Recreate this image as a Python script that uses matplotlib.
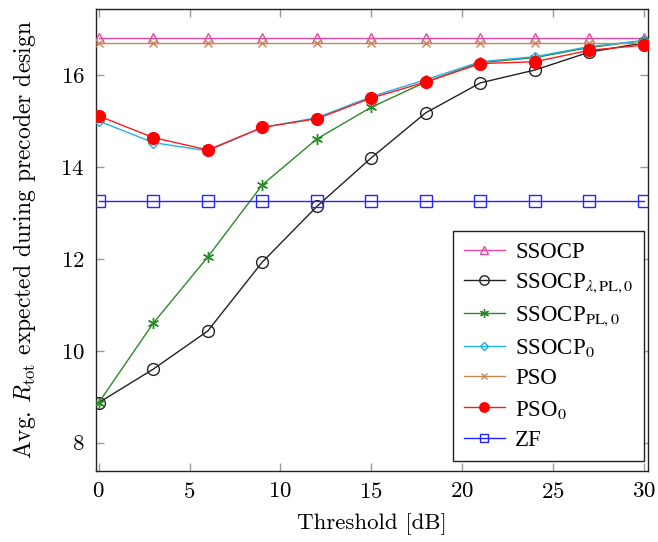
import matplotlib
matplotlib.use("Agg")
import matplotlib.pyplot as plt

threshold = [0, 3, 6, 9, 12, 15, 18, 21, 24, 27, 30]
ssocp = [16.80] * 11
ssocp_lam = [8.87, 9.60, 10.43, 11.93, 13.14, 14.20, 15.18, 15.83, 16.11, 16.50, 16.70]
ssocp_pl = [8.87, 10.60, 12.04, 13.61, 14.61, 15.30, 15.85, 16.27, 16.38, 16.60, 16.75]
ssocp0 = [15.00, 14.53, 14.35, 14.86, 15.07, 15.53, 15.90, 16.29, 16.40, 16.62, 16.75]
pso = [16.70] * 11
pso0 = [15.11, 14.64, 14.37, 14.86, 15.05, 15.50, 15.85, 16.25, 16.29, 16.54, 16.65]
zf = [13.27] * 11

labels = ["SSOCP", r"SSOCP$_{\lambda,\mathrm{PL},0}$", r"SSOCP$_{\mathrm{PL},0}$",
          r"SSOCP$_0$", "PSO", r"PSO$_0$", "ZF"]

plt.rcParams['font.family'] = ['cmr10', 'DejaVu Serif']
plt.rcParams['axes.formatter.use_mathtext'] = True

fig = plt.figure(figsize=(6.58, 5.42), dpi=100)
ax = fig.add_axes([0.1454, 0.1315, 0.8389, 0.8518])

asterisk = (6, 2, 0)
lw = 1.0
ax.plot(threshold, ssocp, color='#e8479e', lw=lw, marker='^', mfc='none', mec='#e8479e', ms=7, mew=1.0, label=labels[0], zorder=3)
ax.plot(threshold, ssocp_lam, color='#222222', lw=lw, marker='o', mfc='none', mec='#222222', ms=8.5, mew=1.0, label=labels[1], zorder=3)
ax.plot(threshold, ssocp_pl, color='#2a8a2a', lw=lw, marker=asterisk, mfc='none', mec='#2a8a2a', ms=8, mew=1.0, label=labels[2], zorder=3)
ax.plot(threshold, ssocp0, color='#22b0e8', lw=lw, marker='D', mfc='none', mec='#22b0e8', ms=5, mew=1.0, label=labels[3], zorder=3)
ax.plot(threshold, pso, color='#c48a55', lw=lw, marker='x', mfc='none', mec='#c48a55', ms=6, mew=1.0, label=labels[4], zorder=3)
ax.plot(threshold, pso0, color='#ff1a1a', lw=lw, marker='o', mfc='#ff0000', mec='#ff0000', ms=8.5, mew=1.0, label=labels[5], zorder=4)
ax.plot(threshold, zf, color='#2424ff', lw=lw, marker='s', mfc='none', mec='#2424ff', ms=8, mew=1.0, label=labels[6], zorder=3)

ax.set_xlim(-0.165, 30.2)
ax.set_ylim(7.39, 17.436)
ax.set_xticks([0, 5, 10, 15, 20, 25, 30])
ax.set_yticks([8, 10, 12, 14, 16])
ax.tick_params(direction='in', length=6, width=1, color='#999999', top=True, right=True, labelsize=16.5, pad=8)
for s in ax.spines.values():
    s.set_linewidth(1.0)
    s.set_color('#222222')

ax.set_xlabel('Threshold [dB]', fontsize=16.5, labelpad=8)
ax.set_ylabel(r'Avg. $R_{\mathrm{tot}}$ expected during precoder design', fontsize=17,
              labelpad=16)
ax.yaxis.label.set_math_fontfamily('cm')

leg = ax.legend(loc='lower right', bbox_to_anchor=(0.9933, 0.021), borderaxespad=0.0,
                frameon=True, fancybox=False, framealpha=1,
                edgecolor='#222222', handlelength=1.8, borderpad=0.45,
                labelspacing=0.4, handletextpad=0.45,
                prop={'family': 'Liberation Serif', 'size': 16.5})
leg.get_frame().set_linewidth(1.0)
for t in leg.get_texts():
    t.set_math_fontfamily('stix')
for h in leg.legend_handles:
    h.set_markersize(h.get_markersize() * 0.8)

fig.savefig('out.png', dpi=100)
